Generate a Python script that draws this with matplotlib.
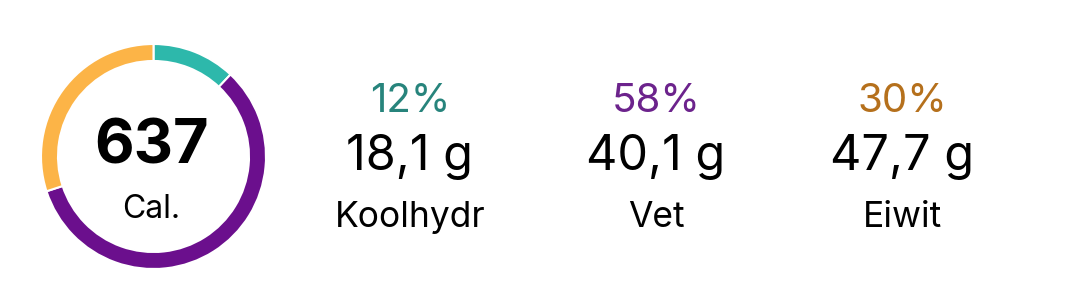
"""Nutrition summary card: calorie donut plus macro breakdown."""

import matplotlib
matplotlib.use("Agg")
import matplotlib.pyplot as plt

# data
calories = 637
calorie_unit = "Cal."
macros = ["Koolhydr", "Vet", "Eiwit"]
shares = [12, 58, 30]
grams = ["18,1 g", "40,1 g", "47,7 g"]

ring_colors = ["#2db8ab", "#6b0f8d", "#fcb447"]
text_colors = ["#27847c", "#6c238c", "#b5701c"]

W, H = 1066, 308
plt.rcParams["font.family"] = ["Inter", "DejaVu Sans"]

fig = plt.figure(figsize=(W / 100, H / 100), dpi=100)
ax = fig.add_axes([0, 0, 1, 1])

# donut, clockwise from 12 o'clock
ax.pie(shares, colors=ring_colors, startangle=90, counterclock=False,
       center=(153.5, 151.5), radius=112.5,
       wedgeprops=dict(width=17, edgecolor="white", linewidth=1.5))

ax.text(152, 144.7, str(calories), ha="center", va="baseline",
        fontsize=44, fontweight="bold", color="black")
ax.text(151, 90.3, calorie_unit, ha="center", va="baseline",
        fontsize=23, color="black")

col_x = [410, 656, 902]
for x, name, pct, g, c in zip(col_x, macros, shares, grams, text_colors):
    ax.text(x, 196, f"{pct}%", ha="center", va="baseline", fontsize=29, color=c)
    ax.text(x, 138, g, ha="center", va="baseline", fontsize=35, color="black")
    ax.text(x, 81, name, ha="center", va="baseline", fontsize=25.5, color="black")

ax.set_xlim(0, W)
ax.set_ylim(0, H)
ax.set_aspect("equal")
ax.axis("off")

fig.savefig("out.png", dpi=100, facecolor="white")
